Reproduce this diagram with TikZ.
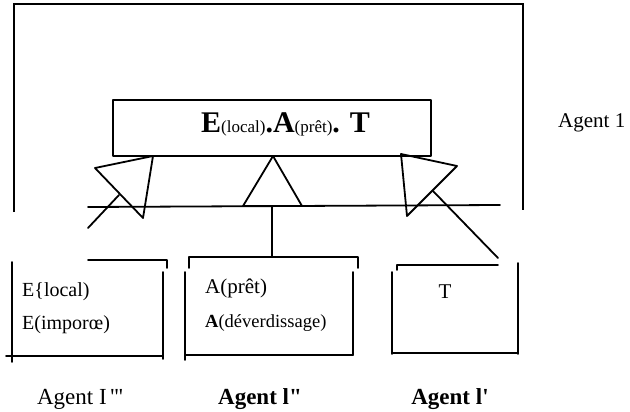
\documentclass[tikz,border=0pt]{standalone}
\usepackage{fontspec}
\setmainfont{Liberation Serif}
\begin{document}
\begin{tikzpicture}[x=1pt,y=-1pt,
  ln/.style={line width=1.8pt,line cap=round,line join=round},
  frm/.style={line width=2.4pt,line join=miter},
  big/.style={font=\fontsize{21}{24}\selectfont},
  labfont/.style={font=\fontsize{23}{26}\selectfont},
  txt/.style={inner sep=0pt,anchor=base west},
  lbl/.style={inner sep=0pt,anchor=base}]
\useasboundingbox (0,0) rectangle (630,412);
% outer frame (Agent 1)
\coordinate (f1) at (14,212);
\coordinate (f2) at (14,4);
\coordinate (f3) at (523,4);
\coordinate (f4) at (523,210);
\draw[frm] (f1) -- (f2) -- (f3) -- (f4);
\node[txt,big] (ag1) at (558,128) {Agent 1};
% top box
\node[draw,ln,anchor=north west,inner sep=0pt,minimum width=318pt,minimum height=56pt] (top) at (112,99) {};
\node[txt] (toptext) at (201,132) {\fontsize{30}{32}\selectfont\bfseries E\fontsize{17}{19}\selectfont\mdseries(local)\fontsize{30}{32}\selectfont\bfseries.A\fontsize{17}{19}\selectfont\mdseries(prêt)\fontsize{30}{32}\selectfont\bfseries. T};
% triangles
\coordinate (l1) at (95,168);
\coordinate (l2) at (153,156);
\coordinate (l3) at (143,218);
\draw[ln] (l1) -- (l2) -- (l3) -- cycle;
\coordinate (m1) at (273,156);
\coordinate (m2) at (243,206);
\coordinate (m3) at (302,206);
\draw[ln] (m1) -- (m2) -- (m3) -- cycle;
\coordinate (r1) at (401,154);
\coordinate (r2) at (457,166);
\coordinate (r3) at (407,216);
\draw[ln] (r1) -- (r2) -- (r3) -- cycle;
% horizontal bus
\coordinate (h1) at (88,207);
\coordinate (h2) at (500,205);
\draw[ln] (h1) -- (h2);
% connectors
\coordinate (cl1) at (88,228);
\coordinate (cl2) at (119,195);
\draw[ln] (cl1) -- (cl2);
\coordinate (cm1) at (272,206);
\coordinate (cm2) at (272,257);
\draw[ln] (cm1) -- (cm2);
\coordinate (cr1) at (433,191);
\coordinate (cr2) at (498,258);
\draw[ln] (cr1) -- (cr2);
% left box (Agent I''')
\coordinate (a1) at (88,260);
\coordinate (a2) at (167,260);
\coordinate (a3) at (167,268);
\draw[ln] (a1) -- (a2) -- (a3);
\draw[ln] (12,262) -- (12,362);
\draw[ln] (163,272) -- (163,359);
\draw[ln] (6,356) -- (163,356);
\node[txt,font=\fontsize{20}{22}\selectfont] (e1) at (22,296) {E\{local)};
\node[txt,font=\fontsize{20}{22}\selectfont] (e2) at (22,329) {E(imporœ)};
% middle box (Agent I'')
\draw[ln] (189,268) -- (189,257) -- (358,257) -- (358,268);
\draw[ln] (185,272) -- (185,360);
\draw[ln] (353,272) -- (353,355);
\draw[ln] (185,355) -- (353,355);
\node[txt,big] (a1t) at (205,293) {A(prêt)};
\node[txt,font=\fontsize{18.5}{20}\selectfont] (a2t) at (205,327) {\textbf{A}(déverdissage)};
% right box (Agent I')
\draw[ln] (397,270) -- (397,265) -- (498,265);
\draw[ln] (392,272) -- (392,354);
\draw[ln] (518,263) -- (518,354);
\draw[ln] (392,353) -- (518,353);
\node[lbl,big] (tt) at (445,298) {T};
% labels
\node[lbl,labfont] (lab3) at (80,404) {Agent I\,\textquotesingle\textquotesingle\textquotesingle};
\node[lbl,labfont] (lab2) at (260,404) {\textbf{Agent l\textquotedbl}};
\node[lbl,labfont] (lab1) at (450,404) {\textbf{Agent l\textquotesingle}};
\end{tikzpicture}
\end{document}
